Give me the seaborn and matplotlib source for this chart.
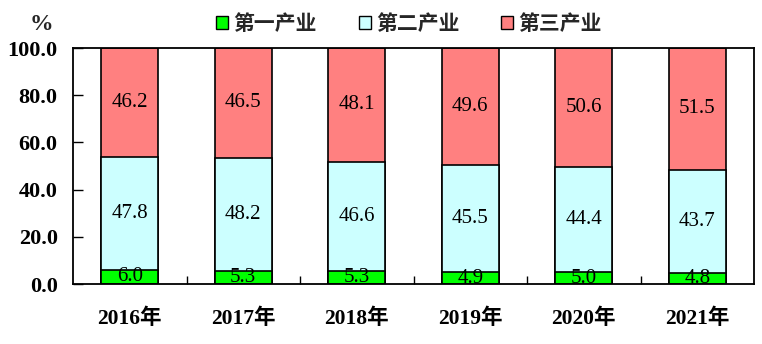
import matplotlib
matplotlib.use("Agg")
import matplotlib.pyplot as plt
from matplotlib.patches import Patch
import numpy as np
import pandas as pd
import seaborn as sns

years = ["2016年", "2017年", "2018年", "2019年", "2020年", "2021年"]
primary = [6.0, 5.3, 5.3, 4.9, 5.0, 4.8]
secondary = [47.8, 48.2, 46.6, 45.5, 44.4, 43.7]
tertiary = [46.2, 46.5, 48.1, 49.6, 50.6, 51.5]
series_names = ["第一产业", "第二产业", "第三产业"]
colors = ["#00FF00", "#CCFFFF", "#FF8080"]
y_ticks = [0, 20, 40, 60, 80, 100]

sns.set_theme(style="white")
plt.rcParams["font.family"] = ["Liberation Serif", "Noto Sans CJK SC"]
plt.rcParams["axes.unicode_minus"] = False

df = pd.DataFrame({
    "year": years,
    "p": primary,
    "s": secondary,
    "t": tertiary,
})
df["ps"] = df["p"] + df["s"]
df["pst"] = df["ps"] + df["t"]

fig = plt.figure(figsize=(7.62, 3.44), dpi=100)
ax = fig.add_axes([73 / 762, 60 / 344, 681 / 762, 236 / 344])

# stacked bars drawn as overlapping cumulative totals
for col, color in zip(["pst", "ps", "p"], colors[::-1]):
    sns.barplot(data=df, x="year", y=col, color=color, width=0.5,
                edgecolor="black", linewidth=1.2, saturation=1, ax=ax)

# value labels centred in each segment
label_font = dict(family="Liberation Serif", size=15, color="black",
                  ha="center", va="center")
for i in range(len(years)):
    bottoms = [0, primary[i], primary[i] + secondary[i]]
    vals = [primary[i], secondary[i], tertiary[i]]
    for b, v in zip(bottoms, vals):
        ax.text(i, b + v / 2, f"{v:.1f}", **label_font)

ax.set_xlim(-0.5, len(years) - 0.5)
ax.set_ylim(0, 100)
ax.set_xlabel("")
ax.set_ylabel("")
ax.set_yticks(y_ticks)
ax.set_yticklabels([f"{v:.1f}" for v in y_ticks])
ax.set_xticks(range(len(years)))
ax.set_xticklabels(years)
ax.set_xticks(np.arange(0.5, len(years) - 0.5, 1), minor=True)

for sp in ax.spines.values():
    sp.set_visible(True)
    sp.set_color("black")
    sp.set_linewidth(1.3)

ax.tick_params(axis="y", which="major", direction="in", length=7, width=1,
               color="black", left=True, pad=11)
ax.tick_params(axis="x", which="major", length=0, pad=18)
ax.tick_params(axis="x", which="minor", direction="in", length=6, width=1,
               color="black", bottom=True)

for lab in ax.get_yticklabels():
    lab.set_fontweight("bold")
    lab.set_fontsize(16)
    lab.set_color("black")
for lab in ax.get_xticklabels():
    lab.set_fontweight("bold")
    lab.set_fontsize(15.5)
    lab.set_color("black")

fig.text(41 / 762, 1 - 24 / 344, "%", ha="center", va="center",
         fontsize=17, fontweight="bold", family="Liberation Serif")

handles = [Patch(facecolor=c, edgecolor="black", linewidth=1) for c in colors]
leg = fig.legend(handles, series_names, loc="center", ncol=3,
                 bbox_to_anchor=(0.537, 1 - 23 / 344), frameon=False,
                 prop=dict(family=["Noto Sans CJK SC"], weight="bold", size=15),
                 handlelength=0.58, handleheight=0.58, handletextpad=0.25,
                 columnspacing=2.0, borderaxespad=0, borderpad=0)

fig.savefig("out.png", dpi=100, facecolor="white")
